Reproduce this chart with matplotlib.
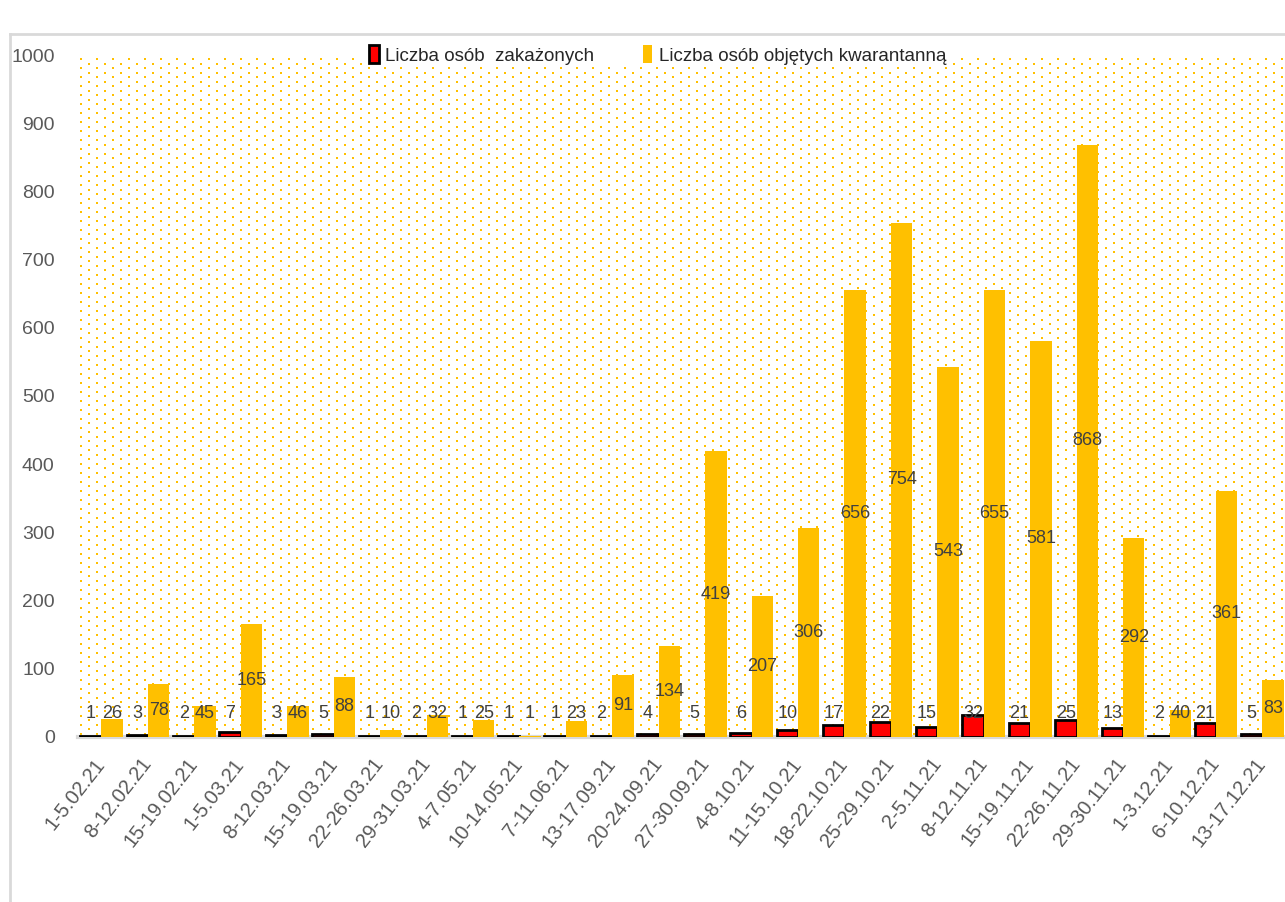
import numpy as np
import matplotlib
matplotlib.use("Agg")
import matplotlib.pyplot as plt
from matplotlib.patches import Patch
from matplotlib.lines import Line2D

# data
weeks = ["1-5.02.21", "8-12.02.21", "15-19.02.21", "1-5.03.21", "8-12.03.21",
         "15-19.03.21", "22-26.03.21", "29-31.03.21", "4-7.05.21", "10-14.05.21",
         "7-11.06.21", "13-17.09.21", "20-24.09.21", "27-30.09.21", "4-8.10.21",
         "11-15.10.21", "18-22.10.21", "25-29.10.21", "2-5.11.21", "8-12.11.21",
         "15-19.11.21", "22-26.11.21", "29-30.11.21", "1-3.12.21", "6-10.12.21",
         "13-17.12.21"]
infected = [1, 3, 2, 7, 3, 5, 1, 2, 1, 1, 1, 2, 4, 5, 6, 10, 17, 22, 15, 32,
            21, 25, 13, 2, 21, 5]
quarantine = [26, 78, 45, 165, 46, 88, 10, 32, 25, 1, 23, 91, 134, 419, 207,
              306, 656, 754, 543, 655, 581, 868, 292, 40, 361, 83]
yticks = list(range(0, 1001, 100))

plt.rcParams["font.family"] = ["Liberation Sans", "DejaVu Sans"]

red = "#FF0000"
gold = "#FFC000"
txt = "#404040"
gray = "#595959"

fig = plt.figure(figsize=(12.85, 9.02), dpi=100)
ax = fig.add_axes([0.0609, 0.183, 0.9396, 0.756])

# dotted background pattern (staggered dots)
W, H = 1207, 682
xs = np.arange(3, W, 8.0)
px, py = [], []
for k, xv in enumerate(xs):
    ys = np.arange(3 + (4.5 if k % 2 else 0), H, 9.0)
    px.extend([xv / W] * len(ys))
    py.extend(list(ys / H))
ax.scatter(px, py, s=2.8, marker="s", color=gold, alpha=1.0, linewidths=0,
           transform=ax.transAxes, zorder=0, clip_on=False)

x = np.arange(len(weeks))
w = 0.46
ax.bar(x - w / 2, infected, width=w, color=red, edgecolor="black", linewidth=2, zorder=3)
ax.bar(x + w / 2, quarantine, width=w, color=gold, linewidth=0, zorder=3)

for i in range(len(weeks)):
    ax.text(x[i] - w / 2, max(infected[i] / 2, 35), str(infected[i]), ha="center",
            va="center", fontsize=13, color=txt, zorder=4)
    ax.text(x[i] + w / 2, max(quarantine[i] / 2, 35), str(quarantine[i]), ha="center",
            va="center", fontsize=13, color=txt, zorder=4)

ax.set_xlim(-0.5, len(weeks) - 0.5)
ax.set_ylim(0, 1000)
ax.set_yticks(yticks)
ax.set_yticklabels([str(v) for v in yticks], fontsize=14, color=gray)
ax.set_xticks(x)
ax.set_xticklabels(weeks, rotation=52, ha="right", va="center",
                   rotation_mode="anchor", fontsize=14.5, color=gray)
ax.tick_params(axis="y", length=0, pad=17)
ax.tick_params(axis="x", length=0, pad=17)
for s in ["top", "right", "left"]:
    ax.spines[s].set_visible(False)
ax.spines["bottom"].set_color("#D9D9D9")
ax.spines["bottom"].set_linewidth(3)
ax.spines["bottom"].set_zorder(1)

handles = [Patch(facecolor=red, edgecolor="black", linewidth=2),
           Patch(facecolor=gold, edgecolor="none")]
leg = fig.legend(handles, ["Liczba osób  zakażonych", "Liczba osób objętych kwarantanną"],
                 loc="center", bbox_to_anchor=(0.512, 0.939), ncol=2, fontsize=13.5,
                 frameon=True, facecolor="white", edgecolor="none", framealpha=1,
                 handlelength=0.5, handleheight=1.1, handletextpad=0.35,
                 columnspacing=2.6, borderpad=0.1, fancybox=False)
for t in leg.get_texts():
    t.set_color("#262626")

# frame of the embedded chart
fig.add_artist(Line2D([10 / 1285, 10 / 1285], [0, 1 - 34 / 902], color="#D9D9D9", lw=2))
fig.add_artist(Line2D([10 / 1285, 1], [1 - 34 / 902, 1 - 34 / 902], color="#D9D9D9", lw=2))

fig.savefig("out.png", dpi=100)
